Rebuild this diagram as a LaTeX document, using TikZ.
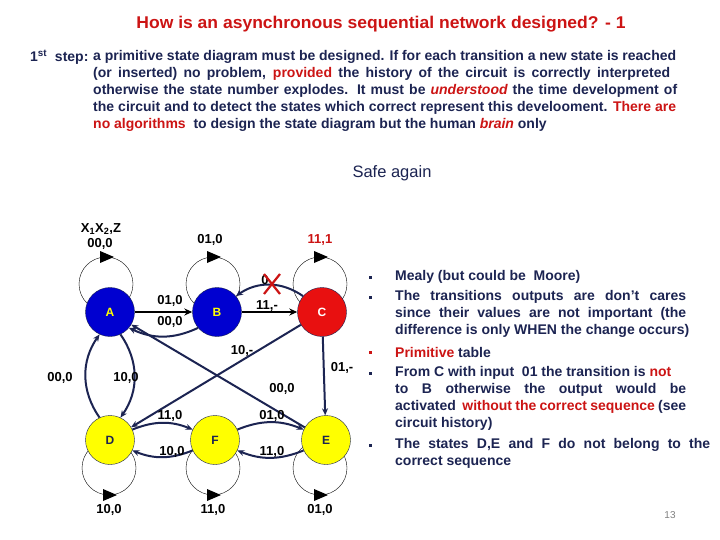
\documentclass[tikz,border=0pt]{standalone}
\usepackage{fontspec}
\setmainfont{Liberation Sans}
\usepackage{graphicx}
\usetikzlibrary{arrows.meta}
\definecolor{navy}{HTML}{1C2452}
\definecolor{tred}{HTML}{CC1414}
\definecolor{nblue}{HTML}{0000D0}
\definecolor{nred}{HTML}{E81010}
\definecolor{nyel}{HTML}{FFFF00}
\newcommand\jl[2]{\makebox[#1][s]{#2}}
\newcommand\nl[1]{#1}
\newcommand\rj[2]{\makebox[#1][s]{#2}}
\newcommand\rn[1]{#1}
\newcommand\rr[1]{\textcolor{tred}{#1}}
\begin{document}
\begin{tikzpicture}[x=1pt,y=-1pt,
  every node/.style={font=\fontsize{12}{14}\selectfont\bfseries, text=navy, inner sep=0pt},
  st/.style={circle, draw=navy, thin, minimum size=49pt},
  lbl/.style={font=\fontsize{13}{15}\selectfont\bfseries, text=black},
  ed/.style={draw=navy, line width=2pt, -{Stealth[length=7pt,width=6pt]}},
  edb/.style={draw=black, line width=1.8pt, -{Stealth[length=8pt,width=7pt]}},
  loopc/.style={draw=black, thin},
  tl/.style={anchor=west, font=\fontsize{14}{16}\selectfont\bfseries, text=navy},
  rt/.style={anchor=west, font=\fontsize{14}{16}\selectfont\bfseries, text=navy},
  bul/.style={rectangle, fill=navy, minimum size=3pt}]
\useasboundingbox (0,0) rectangle (720,540);
\fill[white] (0,0) rectangle (720,540);
% title
\node[font=\fontsize{17}{19}\selectfont\bfseries, text=tred] (title) at (381,24) {\scalebox{1.03}[1]{How is an asynchronous sequential network designed? - 1}};
\node[tl] (s0) at (30,57) {1\textsuperscript{st}\ \ step:};
\node[tl] (s1) at (93,57) {\jl{583pt}{a primitive state diagram must be designed. If for each transition a new state is reached}};
\node[tl] (s2) at (93,74) {\jl{577pt}{(or inserted) no problem, \rr{provided} the history of the circuit is correctly interpreted}};
\node[tl] (s3) at (93,91) {\jl{584pt}{otherwise the state number explodes. It must be \rr{\itshape understood} the time development of}};
\node[tl] (s4) at (93,108) {\jl{583pt}{the circuit and to detect the states which correct represent this develoo{}ment. \rr{There are}}};
\node[tl] (s5) at (93,125) {\rr{no algorithms} \ to design the state diagram but the human \rr{\itshape brain} only};
\node[font=\fontsize{16.5}{18}\selectfont, text=navy] (safe) at (392,173) {Safe again};
% loops
\foreach \cx/\cy in {106/284,213/284,320/284}{
  \draw[loopc] (\cx,\cy) circle (27);
  \fill[black] (\cx-6,\cy-33) -- (\cx+8,\cy-27) -- (\cx-6,\cy-21) -- cycle;}
\foreach \cx/\cy in {109/468,213/468,320/468}{
  \draw[loopc] (\cx,\cy) circle (27);
  \fill[black] (\cx-6,\cy+21) -- (\cx+8,\cy+27) -- (\cx-6,\cy+33) -- cycle;}
% states
\node[st, fill=nblue, text=nyel] (A) at (110,312) {A};
\node[st, fill=nblue, text=nyel] (B) at (217,312) {B};
\node[st, fill=nred, text=white] (C) at (322,312) {C};
\node[st, fill=nyel] (D) at (110,440) {D};
\node[st, fill=nyel] (F) at (215,440) {F};
\node[st, fill=nyel] (E) at (326,440) {E};
% edges
\draw[edb] (A) -- (B);
\draw[ed] (B.220) to[bend left=25] (A.320);
\draw[edb] (B) -- (C);
\draw[ed] (C.140) to[bend right=35] (B.40);
\draw[ed] (C) -- (D);
\draw[ed] (E) -- (A);
\draw[ed] (C) -- (E);
\draw[ed] (D.115) to[bend left=35] (A.245);
\draw[ed] (A.295) to[bend left=35] (D.65);
\draw[ed] (D.25) to[bend left=22] (F.155);
\draw[ed] (F.205) to[bend left=22] (D.335);
\draw[ed] (F.25) to[bend left=22] (E.155);
\draw[ed] (E.205) to[bend left=22] (F.335);
% labels
\node[lbl] (lx) at (101,229) {X\textsubscript{1}X\textsubscript{2},Z};
\node[lbl] (la) at (100,244) {00,0};
\node[lbl] (lb) at (210,240) {01,0};
\node[lbl, text=tred] (lc) at (320,240) {11,1};
\node[lbl] (lab) at (170,301) {01,0};
\node[lbl] (lba) at (170,322) {00,0};
\node[lbl] (lbc) at (267,306) {11,-};
\node[lbl] (lcb) at (265,280) {0};
\draw[tred, line width=2.2pt] (264,274) -- (280,294) (280,274) -- (264,294);
\node[lbl] (lcd) at (242,351) {10,-};
\node[lbl] (lce) at (342,368) {01,-};
\node[lbl] (lea) at (282,389) {00,0};
\node[lbl] (lda) at (60,378) {00,0};
\node[lbl] (lad) at (126,378) {10,0};
\node[lbl] (ldf) at (170,416) {11,0};
\node[lbl] (lfd) at (172,452) {10,0};
\node[lbl] (lfe) at (272,416) {01,0};
\node[lbl] (lef) at (272,452) {11,0};
\node[lbl] (ld) at (109,510) {10,0};
\node[lbl] (lf) at (213,510) {11,0};
\node[lbl] (le) at (320,510) {01,0};
% right column
\foreach \yy in {277,297,373,445}{\node[bul] at (370,\yy) {};}
\node[bul, fill=tred] at (370,352) {};
\node[rt] (r1) at (395,277) {Mealy (but could be \ Moore)};
\node[rt] (r2) at (395,297) {\rj{291pt}{The transitions outputs are don’t cares}};
\node[rt] (r3) at (395,314) {\rj{291pt}{since their values are not important (the}};
\node[rt] (r4) at (395,331) {difference is only WHEN the change occurs)};
\node[rt] (r5) at (395,352) {\rr{Primitive} table};
\node[rt] (r6) at (395,373) {From C with input \ 01 the transition is \rr{not}};
\node[rt] (r7) at (395,390) {\rj{291pt}{to B otherwise the output would be}};
\node[rt] (r8) at (395,407) {\rj{291pt}{activated \ \rr{without the correct sequence} (see}};
\node[rt] (r9) at (395,424) {circuit history)};
\node[rt] (r10) at (395,445) {\rj{315pt}{The states D,E and F do not belong to the}};
\node[rt] (r11) at (395,462) {correct sequence};
\node[font=\fontsize{10}{12}\selectfont, text=gray] (pg) at (670,515) {13};
\end{tikzpicture}
\end{document}
